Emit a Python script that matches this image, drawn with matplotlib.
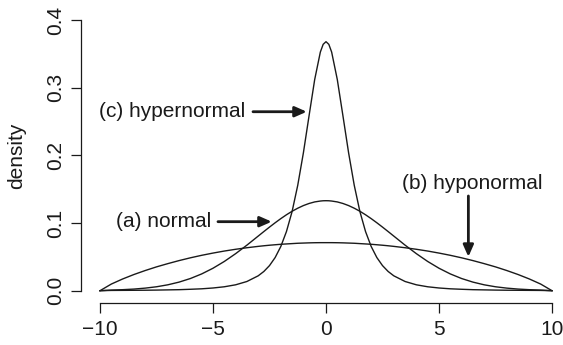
import matplotlib
matplotlib.use("Agg")
import matplotlib.pyplot as plt

plt.rcParams['font.family'] = ['Liberation Sans', 'DejaVu Sans']

# density curves
x = [-10, -9.5, -9, -8.5, -8, -7.5, -7, -6.5, -6, -5.5, -5, -4.5, -4, -3.5, -3,
     -2.75, -2.5, -2.25, -2, -1.75, -1.5, -1.25, -1, -0.75, -0.5, -0.25, -0.125,
     0, 0.125, 0.25, 0.5, 0.75, 1, 1.25, 1.5, 1.75, 2, 2.25, 2.5, 2.75, 3,
     3.5, 4, 4.5, 5, 5.5, 6, 6.5, 7, 7.5, 8, 8.5, 9, 9.5, 10]

normal = [0.0, 0.0009, 0.0015, 0.0024, 0.0038, 0.0058, 0.0087, 0.0127, 0.0180, 0.0248,
          0.0332, 0.0432, 0.0547, 0.0673, 0.0807, 0.0874, 0.0940, 0.1004, 0.1065, 0.1122,
          0.1174, 0.1219, 0.1258, 0.1289, 0.1312, 0.1325, 0.1329,
          0.1330,
          0.1329, 0.1325, 0.1312, 0.1289, 0.1258, 0.1219, 0.1174, 0.1122, 0.1065, 0.1004,
          0.0940, 0.0874, 0.0807, 0.0673, 0.0547, 0.0432, 0.0332, 0.0248, 0.0180, 0.0127,
          0.0087, 0.0058, 0.0038, 0.0024, 0.0015, 0.0009, 0.0]

hyponormal = [0.0, 0.0098, 0.0173, 0.0239, 0.0298, 0.0352, 0.0400, 0.0445, 0.0486, 0.0523,
              0.0556, 0.0586, 0.0612, 0.0635, 0.0655, 0.0664, 0.0672, 0.0679, 0.0686, 0.0691,
              0.0696, 0.0701, 0.0704, 0.0707, 0.0709, 0.0710, 0.0710,
              0.0710,
              0.0710, 0.0710, 0.0709, 0.0707, 0.0704, 0.0701, 0.0696, 0.0691, 0.0686, 0.0679,
              0.0672, 0.0664, 0.0655, 0.0635, 0.0612, 0.0586, 0.0556, 0.0523, 0.0486, 0.0445,
              0.0400, 0.0352, 0.0298, 0.0239, 0.0173, 0.0098, 0.0]

hypernormal = [0.0, 0.0004, 0.0005, 0.0006, 0.0007, 0.0009, 0.0012, 0.0015, 0.0021, 0.0028,
               0.0040, 0.0058, 0.0087, 0.0136, 0.0220, 0.0284, 0.0371, 0.0490, 0.0653, 0.0874,
               0.1170, 0.1558, 0.2038, 0.2584, 0.3121, 0.3527, 0.3641,
               0.3680,
               0.3641, 0.3527, 0.3121, 0.2584, 0.2038, 0.1558, 0.1170, 0.0874, 0.0653, 0.0490,
               0.0371, 0.0284, 0.0220, 0.0136, 0.0087, 0.0058, 0.0040, 0.0028, 0.0021, 0.0015,
               0.0012, 0.0009, 0.0007, 0.0006, 0.0005, 0.0004, 0.0]

xticks = [-10, -5, 0, 5, 10]
yticks = [0.0, 0.1, 0.2, 0.3, 0.4]
ytick_labels = ['0.0', '0.1', '0.2', '0.3', '0.4']

ink = '#1a1a1a'

fig = plt.figure(figsize=(5.63, 3.45), dpi=100)
ax = fig.add_axes([0.1439, 0.1217, 0.8526, 0.8516])

for y in (normal, hyponormal, hypernormal):
    ax.plot(x, y, color=ink, lw=1.0, solid_joinstyle='round')

ax.set_xlim(-10.84, 10.4)
ax.set_ylim(-0.0182, 0.416)

# R-style axes: no box, axis lines only over the tick range
for s in ('top', 'right'):
    ax.spines[s].set_visible(False)
ax.spines['bottom'].set_bounds(-10, 10)
ax.spines['left'].set_bounds(0, 0.4)
for s in ('bottom', 'left'):
    ax.spines[s].set_linewidth(0.9)
    ax.spines[s].set_color(ink)

ax.set_xticks(xticks)
ax.set_yticks(yticks)
ax.set_yticklabels(ytick_labels, rotation=90, va='center')
ax.tick_params(axis='both', length=7.5, width=0.9, color=ink, labelcolor=ink,
               labelsize=15, direction='out')
ax.tick_params(axis='x', pad=5)
ax.tick_params(axis='y', pad=4)

fig.text(17 / 563, (345 - 156) / 345, 'density', rotation=90, ha='center', va='center',
         fontsize=15, color=ink)

arrow = dict(arrowstyle='-|>,head_length=0.5,head_width=0.22', lw=2.0, color=ink,
             shrinkA=0, shrinkB=0, mutation_scale=14)

ax.text(-6.79, 0.2645, '(c) hypernormal', ha='center', va='center', fontsize=15, color=ink)
ax.annotate('', xy=(-0.85, 0.2645), xytext=(-3.23, 0.2645), arrowprops=arrow)

ax.text(-7.2, 0.102, '(a) normal', ha='center', va='center', fontsize=15, color=ink)
ax.annotate('', xy=(-2.4, 0.102), xytext=(-4.78, 0.102), arrowprops=arrow)

ax.text(6.48, 0.1587, '(b) hyponormal', ha='center', va='center', fontsize=15, color=ink)
ax.annotate('', xy=(6.3, 0.050), xytext=(6.3, 0.140), arrowprops=arrow)

fig.savefig('out.png', dpi=100)
